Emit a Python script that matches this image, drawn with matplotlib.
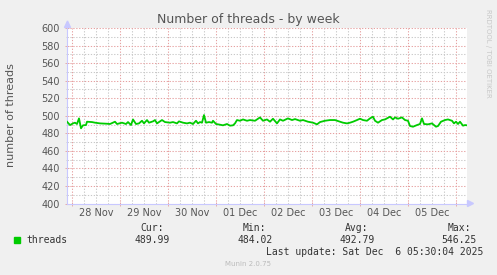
import matplotlib
matplotlib.use('Agg')
import matplotlib.pyplot as plt
from matplotlib.ticker import FixedLocator, FixedFormatter, MultipleLocator, NullFormatter
from matplotlib.patches import Polygon, Rectangle

# hours since 28 Nov 00:00
hours = [-2.5, -1.0, 0.5, 1.5, 2.5, 3.5, 4.5, 5.5, 7.0, 7.5, 10, 11.5, 14, 17.5, 19, 21.5,
         22.5, 25, 27, 28, 29.5, 30.5, 32, 33.5, 35, 36, 37.5, 38.5, 40.5, 41.5, 42.5, 45,
         46.5, 49, 50.5, 52.5, 53.5, 55.5, 57.5, 59, 60.5, 62, 63, 64, 65, 66, 67, 68.5, 70,
         70.5, 72, 74, 75.5, 77.5, 79, 80.5, 81.5, 82.5, 84, 85.5, 87.5, 89,
         91.5, 94, 95.5, 97.5, 99, 100.5, 102.5, 104, 105.5, 108, 110, 111.5, 114, 115.5,
         118, 120.5, 122.5, 124, 126.5, 129, 131.5, 134, 135.5, 137.5, 139, 140.5, 142.5,
         144, 145.5, 147.5, 149, 150.5, 151.5, 153, 155, 156.5, 159, 160.5, 161.5, 163,
         165, 166.5, 168, 169, 170.5, 172.5, 174, 175, 176, 178, 180, 181, 182, 183, 184.5,
         186.5, 188, 190, 191, 192, 193, 194, 195.5, 196.5, 197.5]
threads = [493.2, 489.4, 491.3, 492.1, 490.6, 497.0, 485.7, 489.1, 489.4, 493.2,
           492.8, 492.1, 491.3, 490.9, 490.6, 493.2, 490.6, 492.1, 490.6, 492.8,
           489.4, 495.8, 490.6, 491.3, 494.3, 491.3, 495.1, 492.1, 493.6, 495.1,
           491.3, 495.1, 492.8, 492.1, 492.8, 491.3, 493.6, 492.1, 491.3, 492.1,
           490.6, 494.3, 491.3, 492.8, 492.1, 500.8, 492.1, 492.8, 492.1, 494.3,
           490.6, 489.8, 489.1, 490.6, 488.7, 489.1, 491.3, 495.1, 494.3, 495.8,
           494.3, 495.1,
           494.3, 498.1, 494.3, 495.8, 493.2, 496.6, 491.3, 495.8, 494.3, 497.0,
           495.1, 496.2, 494.3, 495.1, 493.2, 492.1, 490.2, 492.8, 494.3, 495.1,
           495.1, 493.2, 492.1, 491.3, 492.1, 493.2, 495.1, 496.6, 495.1, 494.3,
           497.0, 498.9, 494.3, 492.1, 495.1, 495.8, 498.9, 495.8, 498.1, 496.6,
           498.1, 495.1, 494.3, 488.3, 487.5, 489.4, 490.6, 497.0, 490.6, 490.2,
           491.3, 489.4, 487.5, 488.3, 493.2, 495.1, 495.8, 494.3, 491.3, 493.2,
           490.6, 493.2, 488.7, 489.4, 489.1]

day_labels = ["28 Nov", "29 Nov", "30 Nov", "01 Dec", "02 Dec", "03 Dec", "04 Dec", "05 Dec"]
stat_names = ["Cur:", "Min:", "Avg:", "Max:"]
stat_values = ["489.99", "484.02", "492.79", "546.25"]
series_name = "threads"
title = "Number of threads - by week"
ylabel = "number of threads"
last_update = "Last update: Sat Dec  6 05:30:04 2025"

W, H = 497, 275
def fx(x): return x / W
def fy(y): return 1 - y / H

fig = plt.figure(figsize=(W / 100, H / 100), dpi=100, facecolor='#F0F0F0')
L, R, T, B = 67, 467, 28, 203.5
ax = fig.add_axes([fx(L), fy(B), (R - L) / W, (B - T) / H])
ax.set_facecolor('white')
ax.plot(hours, threads, color='#00CC00', lw=1.3, zorder=3)
ax.set_xlim(-2.5, 197.5)
ax.set_ylim(400, 600)

red = '#E6A0A0'
gray = '#C8C8C8'
axc = '#C8C8FF'
txt = '#555555'

# x ticks: midnight major (red), 6h minor (gray), labels at noon
majors = [24 * i for i in range(9)]
minors, minor_labels = [], []
for d in range(9):
    for h in (6, 12, 18):
        v = 24 * d + h
        if v <= 197.5:
            minors.append(v)
            minor_labels.append(day_labels[d] if (h == 12 and d < len(day_labels)) else '')
ax.xaxis.set_major_locator(FixedLocator(majors))
ax.xaxis.set_major_formatter(NullFormatter())
ax.xaxis.set_minor_locator(FixedLocator(minors))
ax.xaxis.set_minor_formatter(FixedFormatter(minor_labels))
ax.yaxis.set_major_locator(MultipleLocator(20))
ax.yaxis.set_minor_locator(MultipleLocator(10))

ls = (0, (1.2, 1.6))
ax.grid(which='major', color=red, linestyle=ls, lw=0.75)
ax.grid(which='minor', color=gray, linestyle=ls, lw=0.75)
ax.set_axisbelow(True)

ax.tick_params(axis='x', which='major', length=3, width=0.6, color=red, direction='inout')
ax.tick_params(axis='x', which='minor', length=0, pad=3.5, labelsize=7, labelcolor=txt)
ax.tick_params(axis='y', which='major', length=3, width=0.6, color=red, direction='inout',
               pad=3.5, labelsize=7, labelcolor=txt)
ax.tick_params(axis='y', which='minor', length=2, width=0.6, color=gray, direction='inout')

for s in ('top', 'right'):
    ax.spines[s].set_visible(False)
for s in ('left', 'bottom'):
    ax.spines[s].set_color(axc)
    ax.spines[s].set_linewidth(0.8)

# arrows
fig.add_artist(Polygon([(fx(67.5), fy(21)), (fx(64.5), fy(27.5)), (fx(70.5), fy(27.5))],
                       closed=True, color=axc, transform=fig.transFigure))
fig.add_artist(Polygon([(fx(473.5), fy(203.5)), (fx(467.5), fy(200.5)), (fx(467.5), fy(206.5))],
                       closed=True, color=axc, transform=fig.transFigure))

fig.text(fx(248), fy(19), title, ha='center', va='center', fontsize=9, color=txt)
fig.text(fx(11), fy(115), ylabel, rotation=90, ha='center', va='center', fontsize=8, color=txt)
fig.text(fx(488), fy(53.5), "RRDTOOL / TOBI OETIKER", rotation=270, ha='center', va='center',
         fontsize=5, color='#C8C8C8')

mono = 'DejaVu Sans Mono'
fig.add_artist(Rectangle((fx(14), fy(243)), 6 / W, 6 / H, color='#00CC00',
                         transform=fig.transFigure))
fig.text(fx(26.5), fy(239.7), series_name, ha='left', va='center', fontsize=7,
         family=mono, color='#333333')
name_right = [163.5, 266, 368.5, 471]
val_right = [170, 272.5, 374.5, 477]
for n, v, xn, xv in zip(stat_names, stat_values, name_right, val_right):
    fig.text(fx(xn), fy(227.7), n, ha='right', va='center', fontsize=7, family=mono, color='#333333')
    fig.text(fx(xv), fy(239.7), v, ha='right', va='center', fontsize=7, family=mono, color='#333333')
fig.text(fx(483), fy(251.7), last_update, ha='right', va='center', fontsize=7, family=mono,
         color='#333333')
fig.text(fx(248), fy(263.7), "Munin 2.0.75", ha='center', va='center', fontsize=5, color='#BBBBBB')

fig.savefig('out.png', dpi=100, facecolor=fig.get_facecolor())
